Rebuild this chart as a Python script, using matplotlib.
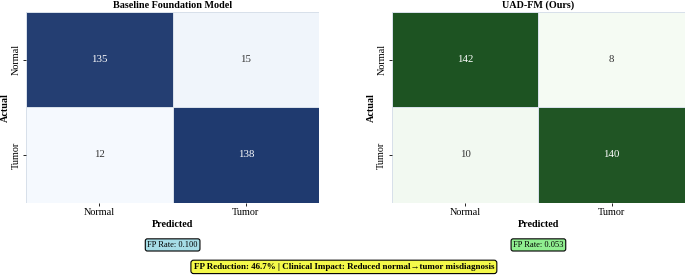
import matplotlib
matplotlib.use("Agg")
import matplotlib.pyplot as plt
from matplotlib.colors import LinearSegmentedColormap
import numpy as np

plt.rcParams['font.family'] = ['Liberation Serif', 'DejaVu Serif']

labels = ["Normal", "Tumor"]
baseline_cm = np.array([[135, 15], [12, 138]])
ours_cm = np.array([[142, 8], [10, 140]])
titles = ["Baseline Foundation Model", "UAD-FM (Ours)"]
fp_rates = [0.100, 0.053]
fp_reduction = 46.7

blue_cmap = LinearSegmentedColormap.from_list("b", ["#f5f9fe", "#1f3a6f"])
green_cmap = LinearSegmentedColormap.from_list("g", ["#f5fbf3", "#1d5322"])
cmaps = [blue_cmap, green_cmap]
box_colors = ["#a6dde6", "#90ee90"]

fig = plt.figure(figsize=(6.85, 2.76), dpi=100)
positions = [[0.038, 0.266, 0.428, 0.691], [0.572, 0.266, 0.428, 0.691]]

for i, cm in enumerate([baseline_cm, ours_cm]):
    ax = fig.add_axes(positions[i])
    ax.pcolormesh(cm, cmap=cmaps[i], vmin=cm.min(), vmax=cm.max(),
                  edgecolor="#d8e0ea", linewidth=0.6)
    ax.set_xlim(0, 2)
    ax.set_ylim(2, 0)
    for r in range(2):
        for c in range(2):
            v = cm[r, c]
            col = "white" if v > cm.max() / 2 else "#333333"
            ax.text(c + 0.5, r + 0.5, str(v), ha="center", va="center",
                    fontsize=7.8, color=col)
    ax.set_xticks([0.5, 1.5])
    ax.set_xticklabels(labels, fontsize=7.3)
    ax.set_yticks([0.5, 1.5])
    ax.set_yticklabels(labels, fontsize=7.3, rotation=90, va="center")
    ax.tick_params(length=2, width=0.6, pad=2)
    for s in ax.spines.values():
        s.set_visible(False)
    ax.set_title(titles[i], fontsize=7.3, fontweight="bold", pad=3)
    ax.set_xlabel("Predicted", fontsize=7.3, fontweight="bold", labelpad=2)
    ax.set_ylabel("Actual", fontsize=7.3, fontweight="bold", labelpad=1)
    ax.text(0.5, -0.222, f"FP Rate: {fp_rates[i]:.3f}", transform=ax.transAxes,
            ha="center", va="center", fontsize=6,
            bbox=dict(boxstyle="round,pad=0.25", facecolor=box_colors[i],
                      edgecolor="black", linewidth=0.8))

fig.text(0.502, 0.033,
         f"FP Reduction: {fp_reduction}% | Clinical Impact: Reduced normal\u2192tumor misdiagnosis",
         ha="center", va="center", fontsize=6.5, fontweight="bold",
         bbox=dict(boxstyle="round,pad=0.3", facecolor="#f4f94a",
                   edgecolor="black", linewidth=0.8))

fig.savefig("out.png", dpi=100)
